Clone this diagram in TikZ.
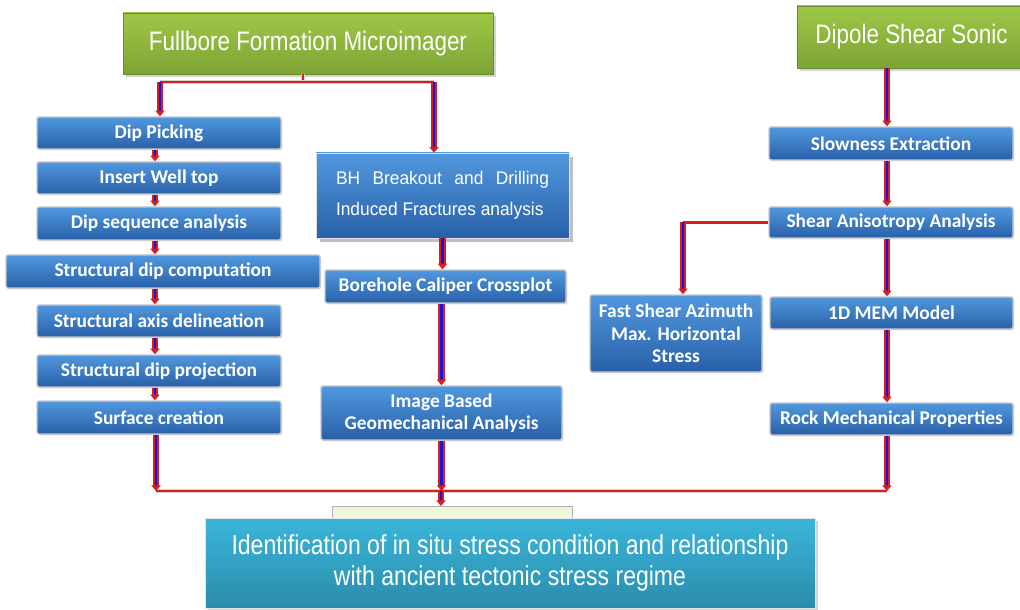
\documentclass[tikz,border=0pt]{standalone}
\usepackage{fontspec}
\setmainfont{Carlito}
\newfontfamily\narrowfont[FakeStretch=0.84]{Liberation Sans}
\newfontfamily\plainfont[FakeStretch=0.95]{Liberation Sans}
\usetikzlibrary{arrows.meta, shadows}

\definecolor{leafhi}{HTML}{9EC748}
\definecolor{leaflo}{HTML}{7DA434}
\definecolor{stephi}{HTML}{5198DE}
\definecolor{steplo}{HTML}{2860A8}
\definecolor{tealhi}{HTML}{3AB6DA}
\definecolor{teallo}{HTML}{2A8CAC}
\definecolor{wirered}{HTML}{D81E1E}
\definecolor{wireblue}{HTML}{1A14D8}
\definecolor{backfill}{HTML}{F0F6D8}

\begin{document}
\begin{tikzpicture}[x=0.025cm, y=-0.025cm,
    tool/.style={top color=leafhi, bottom color=leaflo, draw=leaflo!85!black, line width=0.3pt,
        text=white, font=\narrowfont\fontsize{19}{22}\selectfont,
        drop shadow={shadow xshift=2pt, shadow yshift=-2pt, opacity=0.35}},
    stepfill/.style={top color=stephi, bottom color=steplo},
    task/.style={stepfill, draw=black!22, line width=1pt, rounded corners=1.5pt, inner sep=0pt,
        text=white, font=\bfseries\fontsize{13.8}{16}\selectfont, align=center,
        drop shadow={shadow xshift=1pt, shadow yshift=-1pt, opacity=0.25}},
    note/.style={stepfill, draw=black!12, line width=0.5pt, inner sep=0pt,
        text=white, font=\plainfont\fontsize{13}{22}\selectfont, align=justify,
        drop shadow={shadow xshift=3pt, shadow yshift=-3pt, opacity=0.5}},
    result/.style={top color=tealhi, bottom color=teallo, draw=black!10, line width=0.5pt,
        text=white, font=\narrowfont\fontsize{19.5}{21.5}\selectfont, align=center,
        drop shadow={shadow xshift=2pt, shadow yshift=-2pt, opacity=0.35}},
    flow/.style={draw=wirered, line width=1.1pt, double=wireblue, double distance=2.1pt,
        -{Triangle[width=6.5pt, length=4pt]}},
    bus/.style={draw=wirered, line width=1.5pt, preaction={draw=black!18, line width=2.8pt}}]
  %tikz  FMI and DSSI workflow
    \def\px{0.025cm}
    \useasboundingbox (0,0) rectangle (1020,610);

    % logging tools
    \node[tool, minimum width=370*\px, minimum height=61*\px] (fmi) at (308,43.5) {Fullbore Formation Microimager};
    \node[tool, minimum width=229*\px, minimum height=62*\px] (dss) at (911.5,37) {Dipole Shear Sonic};

    % image branch
    \node[task, minimum width=244*\px, minimum height=32*\px] (pick) at (159,133) {Dip Picking};
    \node[task, minimum width=244*\px, minimum height=32*\px] (well) at (159,178) {Insert Well top};
    \node[task, minimum width=244*\px, minimum height=33*\px] (seq) at (159,223.5) {Dip sequence analysis};
    \node[task, minimum width=314*\px, minimum height=33*\px] (comp) at (163,271.5) {Structural dip computation};
    \node[task, minimum width=244*\px, minimum height=32*\px] (axis) at (159,321) {Structural axis delineation};
    \node[task, minimum width=244*\px, minimum height=32*\px] (proj) at (159,371) {Structural dip projection};
    \node[task, minimum width=244*\px, minimum height=33*\px] (surf) at (159,417.5) {Surface creation};

    % breakout branch
    \node[note, text width=213*\px, minimum width=253*\px, minimum height=85*\px] (bh) at (442.5,195.5)
        {BH Breakout and Drilling\linebreak Induced Fractures analysis};
    \node[task, minimum width=241*\px, minimum height=33*\px] (cal) at (445.5,286.5) {Borehole Caliper Crossplot};
    \node[task, minimum width=241*\px, minimum height=54*\px, font=\bfseries\fontsize{13.8}{15.6}\selectfont] (geo) at (441.5,413)
        {Image Based\\Geomechanical Analysis};

    % sonic branch
    \node[task, minimum width=244*\px, minimum height=33*\px] (slow) at (891,143.5) {Slowness Extraction};
    \node[task, minimum width=244*\px, minimum height=31*\px] (aniso) at (891,222.5) {Shear Anisotropy Analysis};
    \node[task, minimum width=172*\px, minimum height=77*\px] (fast) at (676,333.5)
        {Fast Shear Azimuth\\Max. Horizontal\\Stress};
    \node[task, minimum width=243*\px, minimum height=32*\px] (mem) at (891.5,313) {1D MEM Model};
    \node[task, minimum width=243*\px, minimum height=32*\px] (rock) at (891.5,419) {Rock Mechanical Properties};

    % result
    \node[draw=black!30, fill=backfill, minimum width=240*\px, minimum height=24*\px, anchor=north] (back) at (452,506) {};
    \node[result, minimum width=610*\px, minimum height=90*\px] (ident) at (510,563)
        {Identification of in situ stress condition and relationship\\with ancient tectonic stress regime};

    % connectors
    \coordinate (split) at (303,82);
    \coordinate (fmiL) at (160,82);
    \coordinate (fmiR) at (434,82);
    \coordinate (chain) at (155,0);
    \coordinate (sonic) at (887,0);
    \coordinate (fsa) at (683,221);
    \coordinate (busL) at (156,491);
    \coordinate (busM) at (441,491);
    \coordinate (busR) at (887,491);

    \draw[bus] (split |- fmi.south) -- (split);
    \draw[bus] (fmiL) -- (fmiR);
    \draw[flow] (fmiL) -- (fmiL |- pick.north);
    \draw[flow] (fmiR) -- (fmiR |- bh.north);

    \draw[flow] (chain |- pick.south) -- (chain |- well.north);
    \draw[flow] (chain |- well.south) -- (chain |- seq.north);
    \draw[flow] (chain |- seq.south) -- (chain |- comp.north);
    \draw[flow] (chain |- comp.south) -- (chain |- axis.north);
    \draw[flow] (chain |- axis.south) -- (chain |- proj.north);
    \draw[flow] (chain |- proj.south) -- (chain |- surf.north);

    \draw[flow] (bh.south) -- (bh.south |- cal.north);
    \draw[flow] (geo.north |- cal.south) -- (geo.north);

    \draw[flow] (sonic |- dss.south) -- (sonic |- slow.north);
    \draw[flow] (sonic |- slow.south) -- (sonic |- aniso.north);
    \draw[flow] (sonic |- aniso.south) -- (sonic |- mem.north);
    \draw[flow] (sonic |- mem.south) -- (sonic |- rock.north);
    \draw[bus] (aniso.west) -- (aniso.west -| fsa);
    \draw[flow] (aniso.west -| fsa) -- (fsa |- fast.north);

    \draw[bus] (busL) -- (busR);
    \draw[flow] (busL |- surf.south) -- (busL);
    \draw[flow] (geo.south) -- (geo.south |- busM);
    \draw[flow] (busR |- rock.south) -- (busR);
    \draw[flow] (busM) -- (busM |- back.north);
\end{tikzpicture}
\end{document}
